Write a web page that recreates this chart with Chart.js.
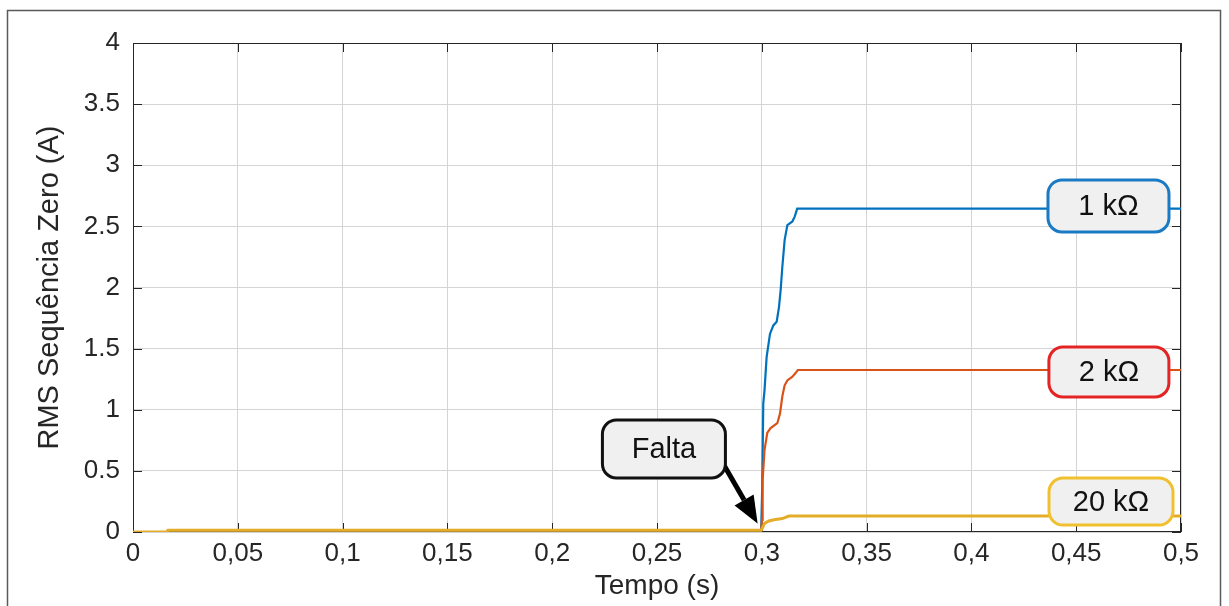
<!DOCTYPE html>
<html>
<head>
<meta charset="utf-8">
<script src="https://cdn.jsdelivr.net/npm/chart.js@4"></script>
<style>
  body { margin: 0; background: #fff; }
  canvas { display: block; }
</style>
</head>
<body>
<canvas id="myChart" width="1229" height="606"></canvas>
<script>
// values (time in s, current in A)
const preTime = [0, 0.0162, 0.0167, 0.2997];
const preValues = [0, 0, 0.015, 0.015];

const blueTime = [0.3002, 0.3007, 0.3013, 0.3023, 0.3039, 0.3055, 0.3071, 0.3082, 0.3090, 0.3098, 0.3109, 0.3122, 0.3146, 0.3157, 0.3169, 0.5];
const blueValues = [0.36, 1.05, 1.16, 1.43, 1.62, 1.69, 1.72, 1.84, 1.98, 2.17, 2.39, 2.51, 2.54, 2.58, 2.645, 2.645];

const orangeTime = [0.3001, 0.3004, 0.3013, 0.3026, 0.3042, 0.3074, 0.3087, 0.3098, 0.3109, 0.3122, 0.3146, 0.3161, 0.3172, 0.5];
const orangeValues = [0.1, 0.43, 0.67, 0.81, 0.85, 0.89, 0.97, 1.11, 1.20, 1.24, 1.27, 1.30, 1.325, 1.325];

const yellowTime = [0.3002, 0.3013, 0.3034, 0.3058, 0.3098, 0.3129, 0.5];
const yellowValues = [0.03, 0.07, 0.09, 0.10, 0.11, 0.13, 0.13];

const seriesNames = ['1 kΩ', '2 kΩ', '20 kΩ'];
const xTicks = [0, 0.5, 0.05];
const yTicks = [0, 4, 0.5];

function pts(t, v) {
  const a = preTime.map((x, i) => ({x: x, y: preValues[i]}));
  return a.concat(t.map((x, i) => ({x: x, y: v[i]})));
}

// label boxes, anchored in data coordinates
const labelBoxes = [
  {text: '1 kΩ', t: 0.4654, v: 2.667, w: 121, h: 52, color: '#1a7ac4'},
  {text: '2 kΩ', t: 0.4656, v: 1.309, w: 120, h: 50, color: '#e32424'},
  {text: '20 kΩ', t: 0.4666, v: 0.249, w: 124, h: 47, color: '#f0c02e'},
  {text: 'Falta', t: 0.2533, v: 0.679, w: 123, h: 58, color: '#111'}
];
const arrowFrom = {t: 0.2815, v: 0.56};
const arrowTo = {t: 0.2980, v: 0.07};

function roundRect(c, x, y, w, h, r) {
  c.beginPath();
  c.moveTo(x + r, y);
  c.arcTo(x + w, y, x + w, y + h, r);
  c.arcTo(x + w, y + h, x, y + h, r);
  c.arcTo(x, y + h, x, y, r);
  c.arcTo(x, y, x + w, y, r);
  c.closePath();
}

const framePlugin = {
  id: 'frame',
  beforeDraw(chart) {
    const c = chart.ctx;
    c.save();
    c.fillStyle = '#fff';
    c.fillRect(0, 0, chart.width, chart.height);
    c.strokeStyle = '#5a5a5a';
    c.lineWidth = 1.5;
    c.strokeRect(7.5, 10.5, 1213, 620);
    c.restore();
  },
  beforeDatasetsDraw(chart) {
    const c = chart.ctx;
    const a = chart.chartArea;
    const xs = chart.scales.x, ys = chart.scales.y;
    c.save();
    c.strokeStyle = '#262626';
    c.lineWidth = 1;
    c.strokeRect(a.left + 0.5, a.top + 0.5, a.right - a.left - 1, a.bottom - a.top - 1);
    c.beginPath();
    xs.ticks.forEach(tk => {
      const px = Math.round(xs.getPixelForValue(tk.value)) + 0.5;
      c.moveTo(px, a.bottom); c.lineTo(px, a.bottom - 9);
      c.moveTo(px, a.top); c.lineTo(px, a.top + 9);
    });
    ys.ticks.forEach(tk => {
      const py = Math.round(ys.getPixelForValue(tk.value)) + 0.5;
      c.moveTo(a.left, py); c.lineTo(a.left + 9, py);
      c.moveTo(a.right, py); c.lineTo(a.right - 9, py);
    });
    c.stroke();
    c.restore();
  },
  afterDatasetsDraw(chart) {
    const c = chart.ctx;
    const xs = chart.scales.x, ys = chart.scales.y;
    c.save();
    // arrow for "Falta"
    const x1 = xs.getPixelForValue(arrowFrom.t), y1 = ys.getPixelForValue(arrowFrom.v);
    const x2 = xs.getPixelForValue(arrowTo.t), y2 = ys.getPixelForValue(arrowTo.v);
    const ang = Math.atan2(y2 - y1, x2 - x1);
    const hl = 27, hw = 11;
    c.strokeStyle = '#000';
    c.fillStyle = '#000';
    c.lineWidth = 5;
    c.beginPath();
    c.moveTo(x1, y1);
    c.lineTo(x2 - hl * Math.cos(ang), y2 - hl * Math.sin(ang));
    c.stroke();
    c.beginPath();
    c.moveTo(x2, y2);
    c.lineTo(x2 - hl * Math.cos(ang) + hw * Math.sin(ang), y2 - hl * Math.sin(ang) - hw * Math.cos(ang));
    c.lineTo(x2 - hl * Math.cos(ang) - hw * Math.sin(ang), y2 - hl * Math.sin(ang) + hw * Math.cos(ang));
    c.closePath();
    c.fill();

    labelBoxes.forEach(b => {
      const cx = xs.getPixelForValue(b.t), cy = ys.getPixelForValue(b.v);
      roundRect(c, cx - b.w / 2, cy - b.h / 2, b.w, b.h, 14);
      c.fillStyle = '#f0f0f0';
      c.fill();
      c.lineWidth = 3;
      c.strokeStyle = b.color;
      c.stroke();
      c.fillStyle = '#111';
      c.font = '29px "Liberation Sans", Arial, sans-serif';
      c.textAlign = 'center';
      c.textBaseline = 'middle';
      c.fillText(b.text, cx, cy + 1);
    });
    c.restore();
  }
};

const ctx = document.getElementById('myChart');

new Chart(ctx, {
  type: 'line',
  data: {
    datasets: [
      {
        label: seriesNames[0],
        data: pts(blueTime, blueValues),
        borderColor: '#0072BD',
        borderWidth: 2.2,
        order: 3
      },
      {
        label: seriesNames[1],
        data: pts(orangeTime, orangeValues),
        borderColor: '#D95319',
        borderWidth: 2.2,
        order: 2
      },
      {
        label: seriesNames[2],
        data: pts(yellowTime, yellowValues),
        borderColor: '#E3AD2A',
        borderWidth: 3,
        order: 1
      }
    ]
  },
  options: {
    responsive: false,
    animation: false,
    devicePixelRatio: 1,
    elements: {
      point: { radius: 0 },
      line: { tension: 0, fill: false }
    },
    layout: {
      padding: { left: 8, top: 43, right: 48, bottom: 0 }
    },
    scales: {
      x: {
        type: 'linear',
        min: xTicks[0],
        max: xTicks[1],
        grid: { color: '#d4d4d4', drawTicks: false },
        border: { display: false },
        ticks: {
          stepSize: xTicks[2],
          padding: 6,
          color: '#262626',
          font: { family: '"Liberation Sans", Arial, sans-serif', size: 26 },
          maxRotation: 0,
          callback: v => String(Math.round(v * 100) / 100).replace('.', ',')
        },
        title: {
          display: true,
          text: 'Tempo (s)',
          color: '#262626',
          font: { family: '"Liberation Sans", Arial, sans-serif', size: 28 },
          padding: { top: 0, bottom: 3 }
        },
        afterFit: s => { s.height = 74; }
      },
      y: {
        min: yTicks[0],
        max: yTicks[1],
        grid: { color: '#d4d4d4', drawTicks: false },
        border: { display: false },
        ticks: {
          stepSize: yTicks[2],
          padding: 13,
          color: '#262626',
          font: { family: '"Liberation Sans", Arial, sans-serif', size: 26 },
          callback: v => String(Math.round(v * 10) / 10)
        },
        title: {
          display: true,
          text: 'RMS Sequência Zero (A)',
          color: '#262626',
          font: { family: '"Liberation Sans", Arial, sans-serif', size: 29 },
          padding: { top: 25, bottom: 0 }
        },
        afterFit: s => { s.width = 125; }
      }
    },
    plugins: {
      legend: { display: false },
      tooltip: { enabled: false }
    }
  },
  plugins: [framePlugin]
});
</script>
</body>
</html>
